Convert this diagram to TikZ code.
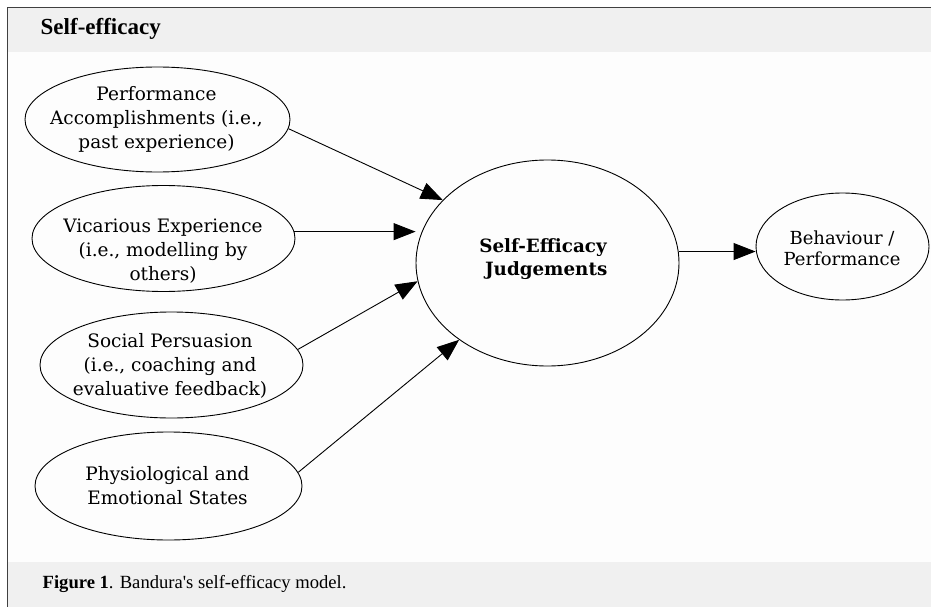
\documentclass[tikz,border=0pt]{standalone}
\usepackage{fontspec}
\setmainfont{Liberation Serif}
\newfontfamily\diagfont{DejaVu Serif}
\usetikzlibrary{shapes.geometric,arrows.meta}
\definecolor{bandgray}{HTML}{F0F0F0}
\definecolor{bodywhite}{HTML}{FDFDFD}
\definecolor{framegray}{HTML}{404040}
\begin{document}
\begin{tikzpicture}[x=1pt,y=-1pt,
  bub/.style={ellipse, draw=black, line width=0.9pt, inner sep=0pt},
  txt/.style={align=center, inner sep=0pt, font=\diagfont\fontsize{18.5}{24}\selectfont},
  arr/.style={-{Triangle[length=22pt,width=17pt]}, line width=0.9pt}]
\useasboundingbox (0,0) rectangle (931,607);
\fill[white] (0,0) rectangle (931,607);
\fill[bodywhite] (7.5,7.5) rectangle (931,607);
\fill[bandgray] (7.5,7.5) rectangle (931,52);
\fill[bandgray] (7.5,562) rectangle (931,607);
\draw[framegray, line width=1pt] (7.5,607) -- (7.5,7.5) -- (931,7.5);
\node[anchor=base west, inner sep=0pt, font=\bfseries\fontsize{23}{27}\selectfont] (title) at (40.5,34.5) {Self-efficacy};
\node[anchor=base west, inner sep=0pt, font=\fontsize{18.6}{22}\selectfont] (caption) at (42.5,588) {\textbf{Figure 1}. Bandura\textquotesingle s self-efficacy model.};
% ellipses
\node[bub, minimum width=265pt, minimum height=105pt] (perf) at (157.5,119.5) {};
\node[bub, minimum width=263pt, minimum height=106pt] (vic) at (163.5,238.5) {};
\node[bub, minimum width=263pt, minimum height=106pt] (soc) at (171.5,365) {};
\node[bub, minimum width=267pt, minimum height=108pt] (phys) at (168.5,486) {};
\node[bub, minimum width=263pt, minimum height=206pt] (se) at (547.5,263) {};
\node[bub, minimum width=173pt, minimum height=107pt] (beh) at (842.5,246.5) {};
% texts
\node[txt] (perft) at (156.5,119.5) {Performance\\Accomplishments (i.e.,\\past experience)};
\node[txt] (vict) at (163,251) {Vicarious Experience\\(i.e., modelling by\\others)};
\node[txt] (soct) at (170,366) {Social Persuasion\\(i.e., coaching and\\evaluative feedback)};
\node[txt] (physt) at (167.5,486) {Physiological and\\Emotional States};
\node[txt, font=\diagfont\bfseries\fontsize{18.3}{23}\selectfont] (set) at (543,259.5) {Self-Efficacy\\\ Judgements};
\node[txt, font=\diagfont\fontsize{18}{21}\selectfont] (beht) at (842,248.5) {Behaviour /\\Performance};
% arrows
\draw[arr] (perf.-4) -- (se.149);
\draw[arr] (vic.3) -- (vic.3 -| se.west);
\draw[arr] (soc.7) -- (se.188);
\draw[arr] (phys.6) -- (se.221);
\draw[arr] (se.5) -- (se.5 -| beh.west);
\end{tikzpicture}
\end{document}
